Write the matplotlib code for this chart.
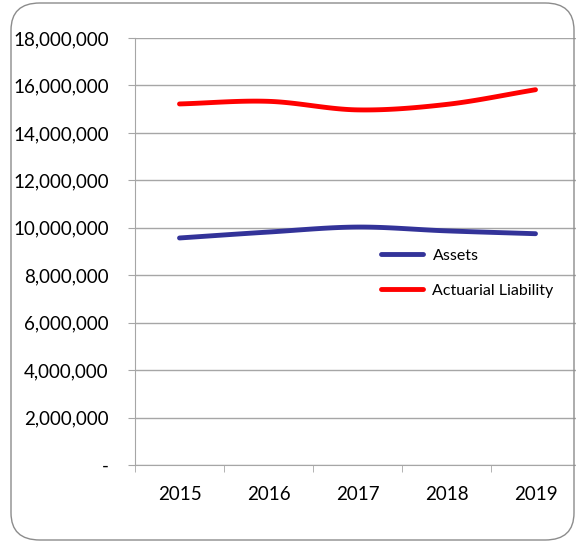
import matplotlib.pyplot as plt
import numpy as np
from matplotlib.patches import FancyBboxPatch
from matplotlib.ticker import FuncFormatter

plt.rcParams['font.family'] = ['Lato', 'DejaVu Sans']

years = ['2015', '2016', '2017', '2018', '2019']
assets = [9570000, 9820000, 10030000, 9870000, 9750000]
liability = [15220000, 15330000, 14970000, 15200000, 15820000]


def smooth(x, y, n=30):
    # Catmull-Rom style smoothing, similar to Excel's smoothed line
    x = np.asarray(x, float)
    y = np.asarray(y, float)
    px = np.concatenate([[2 * x[0] - x[1]], x, [2 * x[-1] - x[-2]]])
    py = np.concatenate([[2 * y[0] - y[1]], y, [2 * y[-1] - y[-2]]])
    xs, ys = [], []
    for i in range(1, len(px) - 2):
        t = np.linspace(0, 1, n)
        for p, out in ((px, xs), (py, ys)):
            p0, p1, p2, p3 = p[i - 1], p[i], p[i + 1], p[i + 2]
            out.extend(0.5 * (2 * p1 + (-p0 + p2) * t
                              + (2 * p0 - 5 * p1 + 4 * p2 - p3) * t ** 2
                              + (-p0 + 3 * p1 - 3 * p2 + p3) * t ** 3))
    return np.array(xs), np.array(ys)


fig = plt.figure(figsize=(5.76, 5.43), dpi=100)
W, H = 576, 543
ax = fig.add_axes([135 / W, 1 - 465 / H, 445 / W, (465 - 38) / H])

pos = np.arange(len(years))
sx, sy = smooth(pos, assets)
ax.plot(sx, sy, color='#333399', lw=3.5, solid_capstyle='round', label='Assets')
sx, sy = smooth(pos, liability)
ax.plot(sx, sy, color='#FF0000', lw=3.5, solid_capstyle='round', label='Actuarial Liability')

ax.set_xlim(-0.5, len(years) - 0.5)
ax.set_ylim(0, 18000000)
ax.set_yticks(np.arange(0, 18000001, 2000000))
ax.yaxis.set_major_formatter(FuncFormatter(lambda v, p: '-' if v == 0 else f'{int(v):,}'))
ax.set_xticks(pos)
ax.set_xticklabels(years)
ax.set_xticks(np.arange(-0.5, len(years), 1), minor=True)
ax.tick_params(axis='x', which='major', length=0, pad=15, labelsize=13.5, colors='#000000')
ax.tick_params(axis='x', which='minor', length=5, color='#A6A6A6', direction='out')
ax.tick_params(axis='y', length=5, color='#A6A6A6', labelsize=13.5, pad=14)
ax.grid(axis='y', color='#A6A6A6', lw=1)
ax.set_axisbelow(True)
for s in ['top', 'right']:
    ax.spines[s].set_visible(False)
for s in ['left', 'bottom']:
    ax.spines[s].set_color('#A6A6A6')

ax.legend(loc='upper left', bbox_to_anchor=(240 / 445, (465 - 242) / 427), frameon=False,
          fontsize=11.5, handlelength=2.6, labelspacing=1.3, handletextpad=0.6,
          borderaxespad=0)

fig.patches.append(FancyBboxPatch((11 / W, 3 / H), 563 / W, 537 / H,
                                  boxstyle='round,pad=0,rounding_size=0.05',
                                  transform=fig.transFigure, fill=False,
                                  edgecolor='#8C8C8C', lw=1, zorder=0))

fig.savefig('out.png', dpi=100)
